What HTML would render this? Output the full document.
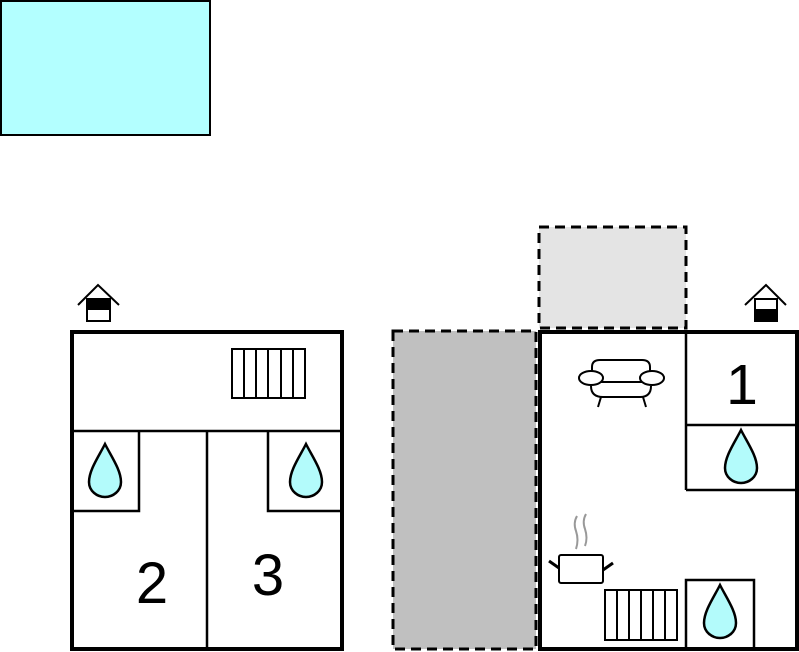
<!DOCTYPE html>
<html><head><meta charset="utf-8"><style>html,body{margin:0;padding:0;background:#fff}svg{display:block}</style></head>
<body>
<svg width="799" height="652" viewBox="0 0 799 652" xmlns="http://www.w3.org/2000/svg" font-family="Liberation Sans, sans-serif">
<defs>
<path id="drop" d="M0,-26 C-6,-14 -16,0 -16,12 C-16,21 -8,27 0,27 C8,27 16,21 16,12 C16,0 6,-14 0,-26 Z" fill="#b3fbfb" stroke="#000" stroke-width="2.5"/>
</defs>
<!-- pool -->
<rect x="1" y="1" width="209" height="134" fill="#b3ffff" stroke="#000" stroke-width="2"/>
<!-- dashed areas -->
<rect x="539" y="227" width="147" height="101" fill="#e4e4e4" stroke="#000" stroke-width="3" stroke-dasharray="10,6"/>
<rect x="393" y="331" width="143" height="318" fill="#c0c0c0" stroke="#000" stroke-width="3" stroke-dasharray="10,6"/>

<!-- left building -->
<rect x="72" y="332" width="270" height="317" fill="#fff" stroke="#000" stroke-width="4"/>
<line x1="72" y1="431" x2="342" y2="431" stroke="#000" stroke-width="2.5"/>
<line x1="207" y1="431" x2="207" y2="649" stroke="#000" stroke-width="2.5"/>
<polyline points="72,511 139,511 139,431" fill="none" stroke="#000" stroke-width="2.5"/>
<polyline points="342,511 268,511 268,431" fill="none" stroke="#000" stroke-width="2.5"/>
<g fill="none" stroke="#000" stroke-width="2">
<rect x="232" y="349" width="73" height="49"/>
<line x1="244" y1="349" x2="244" y2="398"/><line x1="256" y1="349" x2="256" y2="398"/><line x1="268" y1="349" x2="268" y2="398"/><line x1="281" y1="349" x2="281" y2="398"/><line x1="293" y1="349" x2="293" y2="398"/>
</g>
<use href="#drop" x="105" y="470"/>
<use href="#drop" x="306" y="470"/>
<text x="152" y="603" font-size="58" text-anchor="middle">2</text>
<text x="268" y="595" font-size="58" text-anchor="middle">3</text>

<!-- house icons -->
<g stroke="#000" stroke-width="2" fill="none">
<polyline points="78,305 98,285 119,305"/>
<rect x="87" y="299" width="23" height="22" fill="#fff"/>
<rect x="87" y="299" width="23" height="10" fill="#000"/>
<polyline points="745,305 766,285 786,305"/>
<rect x="755" y="299" width="22" height="22" fill="#fff"/>
<rect x="755" y="310" width="22" height="11" fill="#000"/>
</g>

<!-- right building -->
<rect x="540" y="332" width="257" height="317" fill="#fff" stroke="#000" stroke-width="4"/>
<g stroke="#000" stroke-width="2.5" fill="none">
<line x1="686" y1="332" x2="686" y2="490"/>
<line x1="686" y1="425" x2="797" y2="425"/>
<line x1="686" y1="490" x2="797" y2="490"/>
<rect x="686" y="580" width="68" height="69"/>
</g>
<g stroke="#000" stroke-width="2" fill="none">
<rect x="605" y="590" width="72" height="50"/>
<line x1="617" y1="590" x2="617" y2="640"/><line x1="629" y1="590" x2="629" y2="640"/><line x1="641" y1="590" x2="641" y2="640"/><line x1="653" y1="590" x2="653" y2="640"/><line x1="665" y1="590" x2="665" y2="640"/>
<!-- sofa -->
<path d="M592,377 L592,367 Q592,360 600,360 L642,360 Q650,360 650,367 L650,377"/>
<line x1="599" y1="382" x2="643" y2="382"/>
<path d="M591,386 Q591,397 603,397 L640,397 Q651,397 651,386"/>
<ellipse cx="591" cy="378" rx="12" ry="7" fill="#fff"/>
<ellipse cx="652" cy="378" rx="12" ry="7" fill="#fff"/>
<line x1="601" y1="397" x2="598" y2="407"/><line x1="643" y1="397" x2="646" y2="407"/>
<!-- pot -->
<rect x="559" y="555" width="44" height="28" rx="2" fill="#fff"/>
<line x1="549" y1="561" x2="559" y2="568" stroke-width="3"/>
<line x1="613" y1="563" x2="603" y2="570" stroke-width="3"/>
</g>
<g stroke="#999" stroke-width="2" fill="none">
<path d="M577,516 Q573,523 576,531 Q579,540 576,549"/>
<path d="M586,514 Q582,521 585,529 Q588,538 585,546"/>
</g>
<use href="#drop" x="741" y="456"/>
<use href="#drop" x="720" y="611"/>
<text x="742" y="404" font-size="57" text-anchor="middle">1</text>
</svg>
</body></html>
